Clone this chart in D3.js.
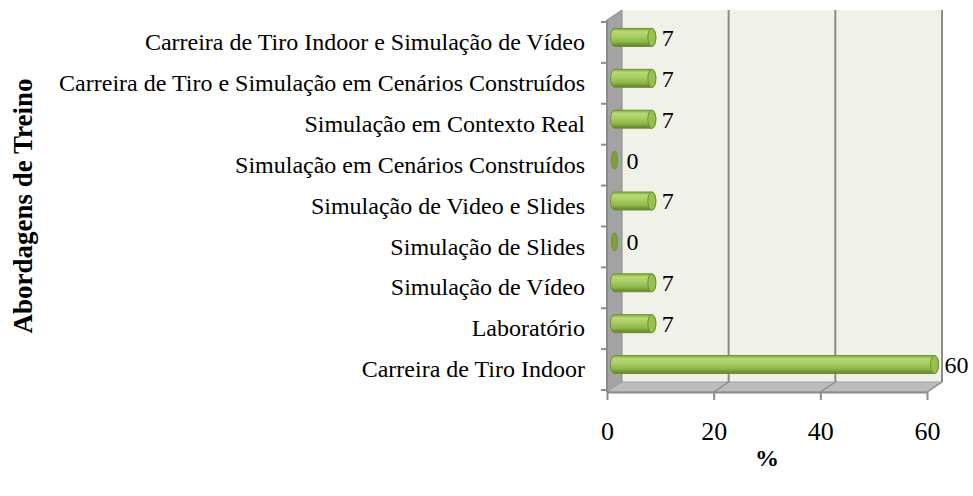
<!DOCTYPE html>
<html lang="en">

<head>
    <title>Abordagens de Treino</title>
    <script src="https://d3js.org/d3.v7.min.js"></script>
    <style>
        body {
            margin: 0;
            background: white;
        }

        svg text {
            font-family: "Liberation Serif", "Times New Roman", serif;
        }
    </style>
</head>

<body>
    <div id="my-graph"></div>

    <script>
        // data, listed from top to bottom as in the chart
        const categories = [
            'Carreira de Tiro Indoor e Simulação de Vídeo',
            'Carreira de Tiro e Simulação em Cenários Construídos',
            'Simulação em Contexto Real',
            'Simulação em Cenários Construídos',
            'Simulação de Video e Slides',
            'Simulação de Slides',
            'Simulação de Vídeo',
            'Laboratório',
            'Carreira de Tiro Indoor'
        ];
        const values = [7, 7, 7, 0, 7, 0, 7, 7, 60];
        const xTicks = [0, 20, 40, 60];
        const yTitle = 'Abordagens de Treino';
        const xTitle = '%';

        const svgWidth = 973, svgHeight = 496;
        const frontLeft = 607, frontRight = 927;
        const frontTop = 20, frontBottom = 392;
        const depthX = 15, depthY = -10;
        const barH = 18;

        const svg = d3.select('#my-graph')
            .append('svg')
            .attr('width', svgWidth)
            .attr('height', svgHeight);

        const defs = svg.append('defs');
        const grad = defs.append('linearGradient')
            .attr('id', 'barGrad')
            .attr('x1', 0).attr('y1', 0).attr('x2', 0).attr('y2', 1);
        [[0, '#86a83e'], [0.18, '#b7d977'], [0.45, '#a8cd62'], [0.75, '#8db54a'], [1, '#5e7d25']]
            .forEach(s => grad.append('stop').attr('offset', s[0]).attr('stop-color', s[1]));

        const scaleX = d3.scaleLinear()
            .domain([0, 60])
            .range([frontLeft, frontRight]);

        const scaleY = d3.scaleBand()
            .domain(categories)
            .range([frontTop + 2, frontBottom - 2]);

        // walls
        const pts = a => a.map(p => p.join(',')).join(' ');
        svg.append('polygon')
            .attr('points', pts([[frontLeft + depthX, frontTop + depthY], [scaleX(60) + depthX, frontTop + depthY],
                [scaleX(60) + depthX, frontBottom + depthY], [frontLeft + depthX, frontBottom + depthY]]))
            .attr('fill', '#f0f2ea');
        svg.append('polygon')
            .attr('points', pts([[frontLeft, frontTop], [frontLeft + depthX, frontTop + depthY],
                [frontLeft + depthX, frontBottom + depthY], [frontLeft, frontBottom]]))
            .attr('fill', '#a3a3a3')
            .attr('stroke', '#8a8a8a');
        svg.append('polygon')
            .attr('points', pts([[frontLeft, frontBottom], [frontLeft + depthX, frontBottom + depthY],
                [scaleX(60) + depthX, frontBottom + depthY], [scaleX(60), frontBottom]]))
            .attr('fill', '#bcbcbc')
            .attr('stroke', '#a0a0a0');

        // gridlines on back wall and floor
        xTicks.slice(1).forEach(t => {
            svg.append('line')
                .attr('x1', scaleX(t) + depthX).attr('x2', scaleX(t) + depthX)
                .attr('y1', frontTop + depthY).attr('y2', frontBottom + depthY)
                .attr('stroke', '#8c8c8c').attr('stroke-width', 2);
            svg.append('line')
                .attr('x1', scaleX(t)).attr('x2', scaleX(t) + depthX)
                .attr('y1', frontBottom).attr('y2', frontBottom + depthY)
                .attr('stroke', '#8c8c8c').attr('stroke-width', 1.5);
        });

        // axes
        const xAxis = svg.append('g')
            .attr('transform', 'translate(0,' + frontBottom + ')')
            .call(d3.axisBottom(scaleX).tickValues(xTicks).tickSize(8).tickPadding(22).tickSizeOuter(0));
        xAxis.select('.domain').attr('stroke', '#8c8c8c').attr('stroke-width', 2);
        xAxis.selectAll('.tick line').attr('stroke', '#8c8c8c').attr('stroke-width', 2);
        xAxis.selectAll('text')
            .style('font-size', '26px')
            .style('font-family', '"Liberation Serif", serif')
            .attr('fill', '#000');

        const yAxis = svg.append('g')
            .attr('transform', 'translate(' + frontLeft + ',0)')
            .call(d3.axisLeft(scaleY).tickSize(0).tickPadding(22));
        yAxis.select('.domain').attr('stroke', '#8c8c8c').attr('stroke-width', 2)
            .attr('d', 'M0,' + frontTop + 'V' + frontBottom);
        yAxis.selectAll('text')
            .style('font-size', '24px')
            .style('font-family', '"Liberation Serif", serif')
            .attr('fill', '#000');

        // band boundary ticks on the left
        yAxis.selectAll('.band-tick')
            .data(categories.concat(['end']))
            .join('line')
            .attr('x1', -6).attr('x2', 0)
            .attr('y1', (d, i) => scaleY.range()[0] + i * scaleY.step())
            .attr('y2', (d, i) => scaleY.range()[0] + i * scaleY.step())
            .attr('stroke', '#8c8c8c').attr('stroke-width', 2);

        // bars as horizontal cylinders
        const x0 = scaleX(0) + depthX / 2;
        const bars = svg.append('g').selectAll('g')
            .data(categories.map((c, i) => ({ cat: c, v: values[i] })))
            .join('g')
            .attr('transform', d => 'translate(0,' + (scaleY(d.cat) + scaleY.bandwidth() / 2 + depthY / 2) + ')');

        bars.filter(d => d.v > 0)
            .append('path')
            .attr('d', d => {
                const x1 = x0 + scaleX(d.v) - scaleX(0);
                return 'M' + x0 + ',' + (-barH / 2) + 'H' + x1 +
                    'A4,' + (barH / 2) + ' 0 0 1 ' + x1 + ',' + (barH / 2) +
                    'H' + x0 + 'A4,' + (barH / 2) + ' 0 0 1 ' + x0 + ',' + (-barH / 2) + 'Z';
            })
            .attr('fill', 'url(#barGrad)')
            .attr('stroke', '#6f922f')
            .attr('stroke-width', 1);

        bars.append('ellipse')
            .attr('cx', d => x0 + scaleX(d.v) - scaleX(0))
            .attr('cy', 0)
            .attr('rx', d => d.v > 0 ? 4 : 3)
            .attr('ry', barH / 2)
            .attr('fill', d => d.v > 0 ? '#97bf52' : '#7d9f3c')
            .attr('stroke', '#6f922f')
            .attr('stroke-width', 1);

        bars.append('text')
            .attr('x', d => x0 + scaleX(d.v) - scaleX(0) + (d.v > 0 ? 10 : 12))
            .attr('y', 0)
            .attr('dy', '0.35em')
            .style('font-size', '24px')
            .text(d => d.v);

        // titles
        svg.append('text')
            .attr('transform', 'translate(32,206) rotate(-90)')
            .attr('text-anchor', 'middle')
            .style('font-size', '27px')
            .style('font-weight', 'bold')
            .text(yTitle);

        svg.append('text')
            .attr('x', 767)
            .attr('y', 466)
            .attr('text-anchor', 'middle')
            .style('font-size', '24px')
            .style('font-weight', 'bold')
            .text(xTitle);
    </script>
</body>

</html>
